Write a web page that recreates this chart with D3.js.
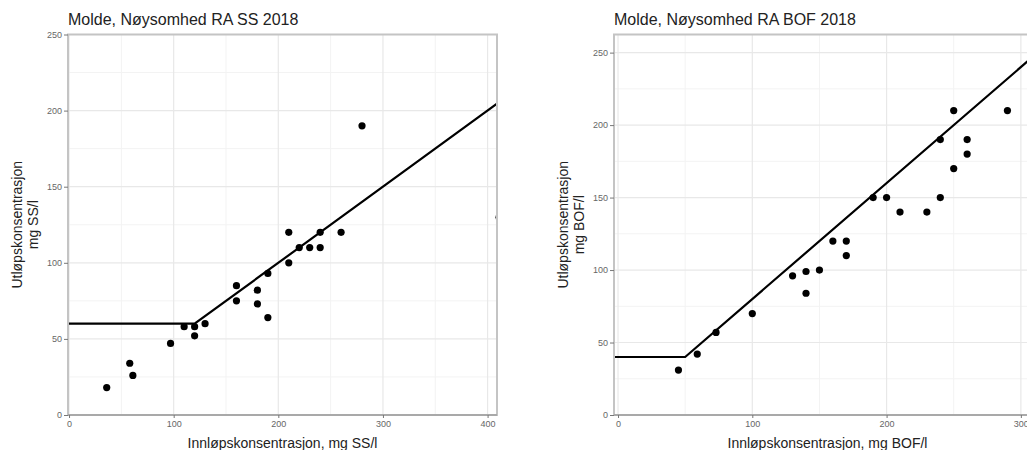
<!DOCTYPE html>
<html><head><meta charset="utf-8">
<script src="https://cdn.jsdelivr.net/npm/d3@7"></script>
<style>body{margin:0;background:#fff}svg{display:block}text{font-family:"Liberation Sans",Arial,sans-serif}</style>
</head><body><svg id="c" width="1027" height="450"></svg>
<script>
// ---- Data ----
const ssTitle = "Molde, Nøysomhed RA SS 2018";
const ssXLabel = "Innløpskonsentrasjon, mg SS/l";
const ssYLabel = ["Utløpskonsentrasjon", "mg SS/l"];
const ssIn  = [36, 58, 61, 97, 110, 120, 120, 130, 160, 160, 180, 180, 190, 190, 210, 210, 220, 230, 240, 240, 260, 280, 411];
const ssOut = [18, 34, 26, 47, 58, 58, 52, 60, 85, 75, 82, 73, 93, 64, 120, 100, 110, 110, 120, 110, 120, 190, 130];
const ssLineX = [-1, 120, 409];
const ssLineY = [60, 60, 204.5];
const ssXTicks = [0, 100, 200, 300, 400];
const ssYTicks = [0, 50, 100, 150, 200, 250];

const bofTitle = "Molde, Nøysomhed RA BOF 2018";
const bofXLabel = "Innløpskonsentrasjon, mg BOF/l";
const bofYLabel = ["Utløpskonsentrasjon", "mg BOF/l"];
const bofIn  = [45, 59, 73, 100, 130, 140, 140, 150, 160, 170, 170, 190, 200, 210, 230, 240, 240, 250, 250, 260, 260, 290];
const bofOut = [31, 42, 57, 70, 96, 99, 84, 100, 120, 120, 110, 150, 150, 140, 140, 150, 190, 210, 170, 190, 180, 210];
const bofLineX = [-3, 50, 315];
const bofLineY = [40, 40, 252];
const bofXTicks = [0, 100, 200, 300];
const bofYTicks = [0, 50, 100, 150, 200, 250];

const svg = d3.select("#c");
svg.append("rect").attr("width",1027).attr("height",450).attr("fill","#fff");

function panel(cfg, id){
  const {x0,x1,y0,y1,xdom,ydom} = cfg;
  const x = d3.scaleLinear().domain(xdom).range([x0,x1]);
  const y = d3.scaleLinear().domain(ydom).range([y1,y0]);
  const g = svg.append("g");
  g.append("clipPath").attr("id",id).append("rect")
    .attr("x",x0).attr("y",y0).attr("width",x1-x0).attr("height",y1-y0);
  const gg = g.append("g").attr("clip-path",`url(#${id})`);
  // minor grid
  const xminor = cfg.xTicks.map(t=>t+50).concat(cfg.xTicks.map(t=>t-50)).filter((v,i,a)=>a.indexOf(v)===i && v>=xdom[0] && v<=xdom[1] && !cfg.xTicks.includes(v));
  const yminor = cfg.yTicks.map(t=>t+25).concat(cfg.yTicks.map(t=>t-25)).filter((v,i,a)=>a.indexOf(v)===i && v>=ydom[0] && v<=ydom[1]);
  gg.selectAll(".xm").data(xminor).join("line").attr("x1",d=>x(d)).attr("x2",d=>x(d)).attr("y1",y0).attr("y2",y1).attr("stroke","#f3f3f3").attr("stroke-width",1);
  gg.selectAll(".ym").data(yminor).join("line").attr("y1",d=>y(d)).attr("y2",d=>y(d)).attr("x1",x0).attr("x2",x1).attr("stroke","#f3f3f3").attr("stroke-width",1);
  gg.selectAll(".xM").data(cfg.xTicks).join("line").attr("x1",d=>x(d)).attr("x2",d=>x(d)).attr("y1",y0).attr("y2",y1).attr("stroke","#e8e8e8").attr("stroke-width",1.2);
  gg.selectAll(".yM").data(cfg.yTicks).join("line").attr("y1",d=>y(d)).attr("y2",d=>y(d)).attr("x1",x0).attr("x2",x1).attr("stroke","#e8e8e8").attr("stroke-width",1.2);
  // line
  const line = d3.line().x(d=>x(d[0])).y(d=>y(d[1]));
  gg.append("path").datum(cfg.lx.map((v,i)=>[v,cfg.ly[i]])).attr("d",line)
    .attr("fill","none").attr("stroke","#000").attr("stroke-width",2.2);
  // points
  gg.selectAll("circle").data(cfg.px.map((v,i)=>[v,cfg.py[i]])).join("circle")
    .attr("cx",d=>x(d[0])).attr("cy",d=>y(d[1])).attr("r",3.6).attr("fill","#000");
  // border
  g.append("rect").attr("x",x0).attr("y",y0).attr("width",x1-x0).attr("height",y1-y0)
    .attr("fill","none").attr("stroke","#c4c4c4").attr("stroke-width",2);
  g.append("line").attr("x1",x0).attr("x2",x1).attr("y1",y1).attr("y2",y1).attr("stroke","#a0a0a0").attr("stroke-width",1.6);
  // axes
  const ax = g.append("g").attr("transform",`translate(0,${y1})`)
    .call(d3.axisBottom(x).tickValues(cfg.xTicks).tickSize(3).tickPadding(3));
  const ay = g.append("g").attr("transform",`translate(${x0},0)`)
    .call(d3.axisLeft(y).tickValues(cfg.yTicks).tickSize(4).tickPadding(2));
  [ax,ay].forEach(a=>{
    a.select(".domain").remove();
    a.selectAll("line").attr("stroke","#777");
    a.selectAll("text").attr("fill","#666").style("font-size","9px").style("font-family",'"Liberation Sans",Arial,sans-serif');
  });
  // titles
  g.append("text").attr("x",x0).attr("y",25).text(cfg.title).style("font-size","16px").attr("fill","#222");
  g.append("text").attr("x",(x0+x1)/2).attr("y",448).attr("text-anchor","middle").text(cfg.xl).style("font-size","14px").attr("fill","#222");
  cfg.yl.forEach((t,i)=>{
    g.append("text").attr("transform",`translate(${cfg.ylx[i]},${(y0+y1)/2}) rotate(-90)`)
      .attr("text-anchor","middle").attr("dy","0.35em").text(t).style("font-size","14px").attr("fill","#222");
  });
}

panel({x0:68,x1:497,y0:34.5,y1:415,xdom:[-1,409],ydom:[0,250],xTicks:ssXTicks,yTicks:ssYTicks,
  lx:ssLineX,ly:ssLineY,px:ssIn,py:ssOut,title:ssTitle,xl:ssXLabel,yl:ssYLabel,ylx:[17,33]},"c1");
panel({x0:614,x1:1041,y0:34.5,y1:415,xdom:[-3,315],ydom:[0,262.5],xTicks:bofXTicks,yTicks:bofYTicks,
  lx:bofLineX,ly:bofLineY,px:bofIn,py:bofOut,title:bofTitle,xl:bofXLabel,yl:bofYLabel,ylx:[563,579]},"c2");
</script></body></html>
